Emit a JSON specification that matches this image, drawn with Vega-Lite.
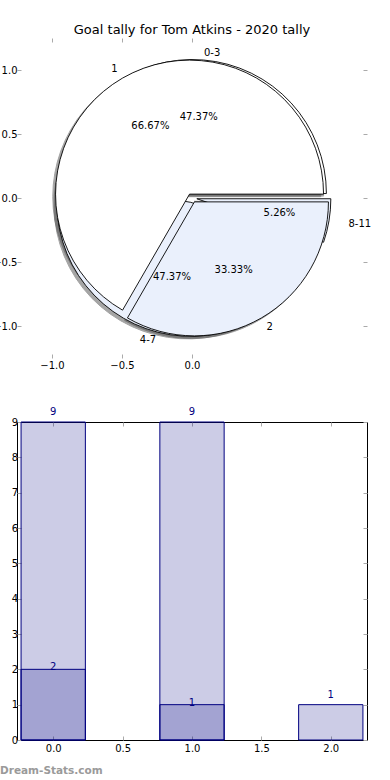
{
  "$schema": "https://vega.github.io/schema/vega-lite/v6.json",
  "background": "white",
  "padding": {"left": -8, "top": 23, "right": 0, "bottom": 0},
  "config": {
    "font": "DejaVu Sans",
    "axis": {"labelFont": "DejaVu Sans", "labelFontSize": 10, "labelColor": "black"},
    "text": {"font": "DejaVu Sans"},
    "title": {"font": "DejaVu Sans"}
  },
  "datasets": {
    "pieA": [
      {"band": "0-3", "idx": 0, "goals": 9, "share": 0.4737},
      {"band": "4-7", "idx": 1, "goals": 9, "share": 0.4737},
      {"band": "8-11", "idx": 2, "goals": 1, "share": 0.0526}
    ],
    "pieB": [
      {"tally": "1", "idx": 0, "count": 2, "share": 0.6667},
      {"tally": "2", "idx": 1, "count": 1, "share": 0.3333}
    ]
  },
  "bounds": "flush",
  "spacing": 64,
  "vconcat": [
    {
      "width": 350,
      "height": 320,
      "view": {"stroke": null},
      "title": {"text": "Goal tally for Tom Atkins - 2020 tally", "fontSize": 13, "fontWeight": "normal", "color": "black", "offset": -2},
      "encoding": {
        "x": {"datum": 0, "type": "quantitative", "scale": {"domain": [-1.25, 1.25], "nice": false, "zero": false}, "axis": null},
        "y": {"datum": 0, "type": "quantitative", "scale": {"domain": [-1.25, 1.25], "nice": false, "zero": false}, "axis": null}
      },
      "layer": [
        {
          "data": {"name": "pieA"},
          "mark": {"type": "point", "opacity": 0},
          "encoding": {
            "x": {"datum": 0, "type": "quantitative", "scale": {"domain": [-1.25, 1.25], "nice": false, "zero": false},
                  "axis": {"orient": "bottom", "values": [-1, -0.5, 0], "format": ".1f", "title": null, "domain": false, "grid": false, "tickSize": -4, "tickColor": "#aaaaaa", "labelPadding": 6}},
            "y": {"datum": 0, "type": "quantitative", "scale": {"domain": [-1.25, 1.25], "nice": false, "zero": false},
                  "axis": {"orient": "left", "values": [-1, -0.5, 0, 0.5, 1], "format": ".1f", "title": null, "domain": false, "grid": false, "tickSize": -4, "tickColor": "#aaaaaa", "labelPadding": 4}}
          }
        },
        {
          "data": {"name": "pieA"},
          "mark": {"type": "point", "opacity": 0},
          "encoding": {
            "x": {"datum": 0, "type": "quantitative", "scale": {"domain": [-1.25, 1.25], "nice": false, "zero": false},
                  "axis": {"orient": "top", "values": [-1, -0.5, 0], "labels": false, "title": null, "domain": false, "grid": false, "tickSize": -4, "tickColor": "#aaaaaa"}},
            "y": {"datum": 0, "type": "quantitative", "scale": {"domain": [-1.25, 1.25], "nice": false, "zero": false},
                  "axis": {"orient": "right", "values": [-1, -0.5, 0, 0.5, 1], "labels": false, "title": null, "domain": false, "grid": false, "tickSize": -4, "tickColor": "#aaaaaa"}}
          }
        },
        {
          "data": {"name": "pieA"},
          "mark": {"type": "arc", "outerRadius": 134, "fill": "#4d4d4d", "stroke": "#4d4d4d", "strokeWidth": 1, "xOffset": -2.4, "yOffset": -1.9},
          "encoding": {
            "theta": {"field": "goals", "type": "quantitative", "stack": "normalize", "scale": {"range": [1.5708, -4.7124]}},
            "order": {"field": "idx", "type": "quantitative"},
            "detail": {"field": "band"},
            "opacity": {"condition": {"test": "datum.band === '0-3'", "value": 0.5}, "value": 0}
          }
        },
        {
          "data": {"name": "pieA"},
          "mark": {"type": "arc", "outerRadius": 134, "fill": "#4d4d4d", "stroke": "#4d4d4d", "strokeWidth": 1, "xOffset": -4.0, "yOffset": 6.9},
          "encoding": {
            "theta": {"field": "goals", "type": "quantitative", "stack": "normalize", "scale": {"range": [1.5708, -4.7124]}},
            "order": {"field": "idx", "type": "quantitative"},
            "detail": {"field": "band"},
            "opacity": {"condition": {"test": "datum.band === '4-7'", "value": 0.5}, "value": 0}
          }
        },
        {
          "data": {"name": "pieA"},
          "mark": {"type": "arc", "outerRadius": 134, "fill": "#4d4d4d", "stroke": "#4d4d4d", "strokeWidth": 1, "xOffset": 2.0, "yOffset": 3.3},
          "encoding": {
            "theta": {"field": "goals", "type": "quantitative", "stack": "normalize", "scale": {"range": [1.5708, -4.7124]}},
            "order": {"field": "idx", "type": "quantitative"},
            "detail": {"field": "band"},
            "opacity": {"condition": {"test": "datum.band === '8-11'", "value": 0.5}, "value": 0}
          }
        },
        {
          "data": {"name": "pieB"},
          "mark": {"type": "arc", "outerRadius": 134, "fill": "#4d4d4d", "stroke": "#4d4d4d", "strokeWidth": 1, "xOffset": -5.25, "yOffset": -1.3},
          "encoding": {
            "theta": {"field": "count", "type": "quantitative", "stack": "normalize", "scale": {"range": [1.5708, -4.7124]}},
            "order": {"field": "idx", "type": "quantitative"},
            "detail": {"field": "tally"},
            "opacity": {"condition": {"test": "datum.tally === '1'", "value": 0.5}, "value": 0}
          }
        },
        {
          "data": {"name": "pieB"},
          "mark": {"type": "arc", "outerRadius": 134, "fill": "#4d4d4d", "stroke": "#4d4d4d", "strokeWidth": 1, "xOffset": -0.35, "yOffset": 6.4},
          "encoding": {
            "theta": {"field": "count", "type": "quantitative", "stack": "normalize", "scale": {"range": [1.5708, -4.7124]}},
            "order": {"field": "idx", "type": "quantitative"},
            "detail": {"field": "tally"},
            "opacity": {"condition": {"test": "datum.tally === '2'", "value": 0.5}, "value": 0}
          }
        },
        {
          "data": {"name": "pieA"},
          "mark": {"type": "arc", "outerRadius": 134, "fill": "white", "stroke": "black", "strokeWidth": 0.9, "xOffset": 0.4, "yOffset": -4.46},
          "encoding": {
            "theta": {"field": "goals", "type": "quantitative", "stack": "normalize", "scale": {"range": [1.5708, -4.7124]}},
            "order": {"field": "idx", "type": "quantitative"},
            "detail": {"field": "band"},
            "opacity": {"condition": {"test": "datum.band === '0-3'", "value": 1}, "value": 0}
          }
        },
        {
          "data": {"name": "pieA"},
          "mark": {"type": "arc", "outerRadius": 134, "fill": "#eaf0fc", "stroke": "black", "strokeWidth": 0.9, "xOffset": -1.2, "yOffset": 4.34},
          "encoding": {
            "theta": {"field": "goals", "type": "quantitative", "stack": "normalize", "scale": {"range": [1.5708, -4.7124]}},
            "order": {"field": "idx", "type": "quantitative"},
            "detail": {"field": "band"},
            "opacity": {"condition": {"test": "datum.band === '4-7'", "value": 1}, "value": 0}
          }
        },
        {
          "data": {"name": "pieA"},
          "mark": {"type": "arc", "outerRadius": 134, "fill": "#eaf0fc", "stroke": "black", "strokeWidth": 0.9, "xOffset": 4.83, "yOffset": 0.74},
          "encoding": {
            "theta": {"field": "goals", "type": "quantitative", "stack": "normalize", "scale": {"range": [1.5708, -4.7124]}},
            "order": {"field": "idx", "type": "quantitative"},
            "detail": {"field": "band"},
            "opacity": {"condition": {"test": "datum.band === '8-11'", "value": 1}, "value": 0}
          }
        },
        {
          "data": {"name": "pieB"},
          "mark": {"type": "arc", "outerRadius": 134, "fill": "white", "stroke": "black", "strokeWidth": 0.9, "xOffset": -2.45, "yOffset": -3.88},
          "encoding": {
            "theta": {"field": "count", "type": "quantitative", "stack": "normalize", "scale": {"range": [1.5708, -4.7124]}},
            "order": {"field": "idx", "type": "quantitative"},
            "detail": {"field": "tally"},
            "opacity": {"condition": {"test": "datum.tally === '1'", "value": 1}, "value": 0}
          }
        },
        {
          "data": {"name": "pieB"},
          "mark": {"type": "arc", "outerRadius": 134, "fill": "#eaf0fc", "stroke": "black", "strokeWidth": 0.9, "xOffset": 2.45, "yOffset": 3.88},
          "encoding": {
            "theta": {"field": "count", "type": "quantitative", "stack": "normalize", "scale": {"range": [1.5708, -4.7124]}},
            "order": {"field": "idx", "type": "quantitative"},
            "detail": {"field": "tally"},
            "opacity": {"condition": {"test": "datum.tally === '2'", "value": 1}, "value": 0}
          }
        },
        {
          "data": {"name": "pieA"},
          "mark": {"type": "text", "radius": 145.4, "align": "left", "baseline": "middle", "fontSize": 10, "color": "black"},
          "encoding": {
            "theta": {"field": "goals", "type": "quantitative", "stack": "normalize", "scale": {"range": [1.5708, -4.7124]}},
            "order": {"field": "idx", "type": "quantitative"},
            "detail": {"field": "band"},
            "text": {"field": "band"},
            "opacity": {"condition": {"test": "datum.band === '0-3'", "value": 1}, "value": 0}
          }
        },
        {
          "data": {"name": "pieA"},
          "mark": {"type": "text", "radius": 146.2, "align": "right", "baseline": "middle", "fontSize": 10, "color": "black"},
          "encoding": {
            "theta": {"field": "goals", "type": "quantitative", "stack": "normalize", "scale": {"range": [1.5708, -4.7124]}},
            "order": {"field": "idx", "type": "quantitative"},
            "detail": {"field": "band"},
            "text": {"field": "band"},
            "opacity": {"condition": {"test": "datum.band === '4-7'", "value": 1}, "value": 0}
          }
        },
        {
          "data": {"name": "pieA"},
          "mark": {"type": "text", "radius": 158.6, "align": "left", "baseline": "middle", "fontSize": 10, "color": "black"},
          "encoding": {
            "theta": {"field": "goals", "type": "quantitative", "stack": "normalize", "scale": {"range": [1.5708, -4.7124]}},
            "order": {"field": "idx", "type": "quantitative"},
            "detail": {"field": "band"},
            "text": {"field": "band"},
            "opacity": {"condition": {"test": "datum.band === '8-11'", "value": 1}, "value": 0}
          }
        },
        {
          "data": {"name": "pieB"},
          "mark": {"type": "text", "radius": 148.8, "align": "right", "baseline": "middle", "fontSize": 10, "color": "black"},
          "encoding": {
            "theta": {"field": "count", "type": "quantitative", "stack": "normalize", "scale": {"range": [1.5708, -4.7124]}},
            "order": {"field": "idx", "type": "quantitative"},
            "detail": {"field": "tally"},
            "text": {"field": "tally"},
            "opacity": {"condition": {"test": "datum.tally === '1'", "value": 1}, "value": 0}
          }
        },
        {
          "data": {"name": "pieB"},
          "mark": {"type": "text", "radius": 148.8, "align": "left", "baseline": "middle", "fontSize": 10, "color": "black"},
          "encoding": {
            "theta": {"field": "count", "type": "quantitative", "stack": "normalize", "scale": {"range": [1.5708, -4.7124]}},
            "order": {"field": "idx", "type": "quantitative"},
            "detail": {"field": "tally"},
            "text": {"field": "tally"},
            "opacity": {"condition": {"test": "datum.tally === '2'", "value": 1}, "value": 0}
          }
        },
        {
          "data": {"name": "pieA"},
          "mark": {"type": "text", "radius": 81.5, "align": "center", "baseline": "middle", "fontSize": 10, "color": "black"},
          "encoding": {
            "theta": {"field": "goals", "type": "quantitative", "stack": "normalize", "scale": {"range": [1.5708, -4.7124]}},
            "order": {"field": "idx", "type": "quantitative"},
            "detail": {"field": "band"},
            "text": {"field": "share", "type": "quantitative", "format": ".2%"},
            "opacity": {"condition": {"test": "datum.band !== '8-11'", "value": 1}, "value": 0}
          }
        },
        {
          "data": {"name": "pieA"},
          "mark": {"type": "text", "radius": 88.7, "align": "center", "baseline": "middle", "fontSize": 10, "color": "black"},
          "encoding": {
            "theta": {"field": "goals", "type": "quantitative", "stack": "normalize", "scale": {"range": [1.5708, -4.7124]}},
            "order": {"field": "idx", "type": "quantitative"},
            "detail": {"field": "band"},
            "text": {"field": "share", "type": "quantitative", "format": ".2%"},
            "opacity": {"condition": {"test": "datum.band === '8-11'", "value": 1}, "value": 0}
          }
        },
        {
          "data": {"name": "pieB"},
          "mark": {"type": "text", "radius": 83.2, "align": "center", "baseline": "middle", "fontSize": 10, "color": "black"},
          "encoding": {
            "theta": {"field": "count", "type": "quantitative", "stack": "normalize", "scale": {"range": [1.5708, -4.7124]}},
            "order": {"field": "idx", "type": "quantitative"},
            "detail": {"field": "tally"},
            "text": {"field": "share", "type": "quantitative", "format": ".2%"}
          }
        }
      ],
      "resolve": {"axis": {"x": "independent", "y": "independent"}}
    },
    {
      "width": 350,
      "height": 318,
      "view": {"stroke": "black", "strokeWidth": 1},
      "title": {"text": "Dream-Stats.com", "orient": "bottom", "anchor": "start", "frame": "group", "dx": -17, "offset": 13, "color": "#9a9a9a", "fontSize": 10.5, "fontWeight": "bold"},
      "layer": [
        {
          "data": {"name": "pieA"},
          "mark": {"type": "bar", "orient": "vertical", "width": 64.3, "fill": "#000080", "fillOpacity": 0.2, "stroke": "#000080", "strokeWidth": 1},
          "encoding": {
            "x": {"field": "idx", "type": "quantitative", "scale": {"domain": [-0.225, 2.225], "nice": false, "zero": false},
                  "axis": {"orient": "bottom", "values": [0, 0.5, 1, 1.5, 2], "format": ".1f", "title": null, "domain": false, "grid": false, "tickSize": -4, "tickColor": "#aaaaaa", "labelPadding": 7}},
            "y": {"field": "goals", "type": "quantitative", "scale": {"domain": [0, 9], "nice": false}, "stack": null,
                  "axis": {"orient": "left", "values": [0, 1, 2, 3, 4, 5, 6, 7, 8, 9], "format": "d", "title": null, "domain": false, "grid": false, "tickSize": -4, "tickColor": "#aaaaaa", "labelPadding": 3.5}}
          }
        },
        {
          "data": {"name": "pieB"},
          "mark": {"type": "bar", "orient": "vertical", "width": 64.3, "fill": "#000080", "fillOpacity": 0.2, "stroke": "#000080", "strokeWidth": 1},
          "encoding": {
            "x": {"field": "idx", "type": "quantitative", "scale": {"domain": [-0.225, 2.225], "nice": false, "zero": false}, "axis": null},
            "y": {"field": "count", "type": "quantitative", "scale": {"domain": [0, 9], "nice": false}, "stack": null, "axis": null}
          }
        },
        {
          "data": {"name": "pieA"},
          "mark": {"type": "text", "dy": -10, "fontSize": 10, "color": "#000080", "baseline": "middle"},
          "encoding": {
            "x": {"field": "idx", "type": "quantitative", "scale": {"domain": [-0.225, 2.225], "nice": false, "zero": false}, "axis": null},
            "y": {"field": "goals", "type": "quantitative", "scale": {"domain": [0, 9], "nice": false}, "axis": null},
            "text": {"field": "goals", "type": "quantitative"}
          }
        },
        {
          "data": {"name": "pieB"},
          "mark": {"type": "text", "dy": -2, "fontSize": 10, "color": "#000080", "baseline": "middle"},
          "encoding": {
            "x": {"field": "idx", "type": "quantitative", "scale": {"domain": [-0.225, 2.225], "nice": false, "zero": false}, "axis": null},
            "y": {"field": "count", "type": "quantitative", "scale": {"domain": [0, 9], "nice": false}, "axis": null},
            "text": {"field": "count", "type": "quantitative"}
          }
        },
        {
          "data": {"name": "pieA"},
          "mark": {"type": "point", "opacity": 0},
          "encoding": {
            "x": {"field": "idx", "type": "quantitative", "scale": {"domain": [-0.225, 2.225], "nice": false, "zero": false},
                  "axis": {"orient": "top", "values": [0, 0.5, 1, 1.5, 2], "labels": false, "title": null, "domain": false, "grid": false, "tickSize": -4, "tickColor": "#aaaaaa"}},
            "y": {"field": "goals", "type": "quantitative", "scale": {"domain": [0, 9], "nice": false},
                  "axis": {"orient": "right", "values": [0, 1, 2, 3, 4, 5, 6, 7, 8, 9], "labels": false, "title": null, "domain": false, "grid": false, "tickSize": -4, "tickColor": "#aaaaaa"}}
          }
        }
      ],
      "resolve": {"axis": {"x": "independent", "y": "independent"}}
    }
  ]
}
